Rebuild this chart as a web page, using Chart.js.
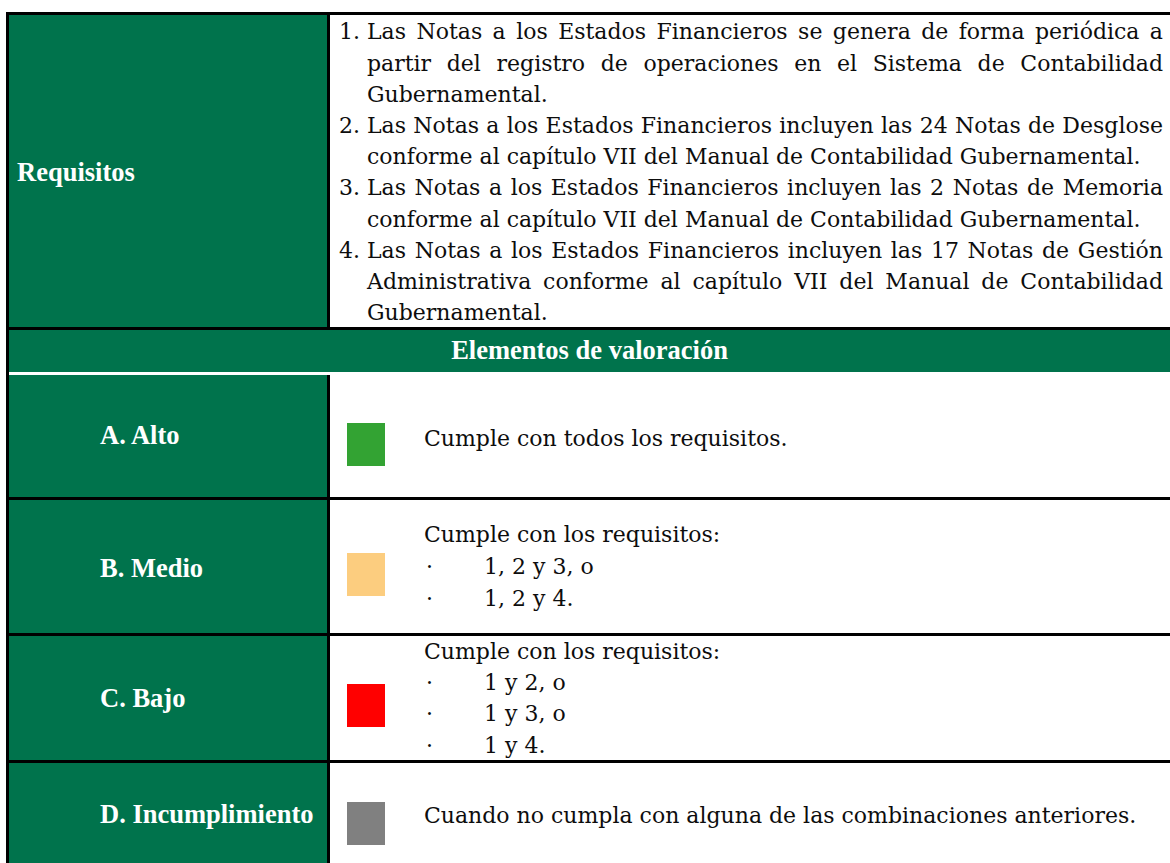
<!DOCTYPE html>
<html lang="es">
<head>
<meta charset="utf-8">
<title>Elementos de valoración</title>
<script src="https://cdn.jsdelivr.net/npm/chart.js@4/dist/chart.umd.min.js"></script>
<style>
    body { margin: 0; width: 1170px; height: 863px; overflow: hidden; background: #fff; position: relative; }
    .box { position: absolute; }
    .green { background: #00734c; }
    .black { background: #000; }
    .label {
        position: absolute; white-space: nowrap; color: #fff;
        font-family: 'Liberation Serif', 'Times New Roman', serif;
        font-weight: bold; font-size: 26.5px; line-height: 30px;
    }
    .txt {
        position: absolute; white-space: nowrap; color: #0d0d0d;
        font-family: 'DejaVu Serif', serif; font-size: 22px;
    }
    .just { text-align: justify; text-align-last: justify; }
</style>
</head>
<body>
<script>
// Requisitos (lines as broken in the original)
const reqNumbers = ['1.', '2.', '3.', '4.'];
const reqLines = [
    ['Las Notas a los Estados Financieros se genera de forma periódica a',
     'partir del registro de operaciones en el Sistema de Contabilidad',
     'Gubernamental.'],
    ['Las Notas a los Estados Financieros incluyen las 24 Notas de Desglose',
     'conforme al capítulo VII del Manual de Contabilidad Gubernamental.'],
    ['Las Notas a los Estados Financieros incluyen las 2 Notas de Memoria',
     'conforme al capítulo VII del Manual de Contabilidad Gubernamental.'],
    ['Las Notas a los Estados Financieros incluyen las 17 Notas de Gestión',
     'Administrativa conforme al capítulo VII del Manual de Contabilidad',
     'Gubernamental.']
];

// Elementos de valoración
const levelLabels = ['A. Alto', 'B. Medio', 'C. Bajo', 'D. Incumplimiento'];
const levelColors = ['#33a333', '#fccd7f', '#ff0000', '#808080'];
const levelIntro = [
    'Cumple con todos los requisitos.',
    'Cumple con los requisitos:',
    'Cumple con los requisitos:',
    'Cuando no cumpla con alguna de las combinaciones anteriores.'
];
const levelItems = [[], ['1, 2 y 3, o', '1, 2 y 4.'], ['1 y 2, o', '1 y 3, o', '1 y 4.'], []];

// layout
const rowBoxes = [[375, 497], [500, 633], [636, 760], [763, 875]];
const labelTops = [420, 553, 683, 799];
const swatchTops = [423, 553, 684, 802];
const textTops = [423, 519, 636, 800];
const textSteps = [31, 32, 31.2, 31];

function box(cls, x, y, w, h) {
    const d = document.createElement('div');
    d.className = 'box ' + cls;
    Object.assign(d.style, { left: x + 'px', top: y + 'px', width: w + 'px', height: h + 'px' });
    document.body.appendChild(d);
    return d;
}

function text(cls, str, x, y, w, lh) {
    const d = document.createElement('div');
    d.className = cls;
    d.textContent = str;
    d.style.left = x + 'px';
    d.style.top = y + 'px';
    if (w) d.style.width = w + 'px';
    if (lh) d.style.lineHeight = lh + 'px';
    document.body.appendChild(d);
    return d;
}

// Swatch drawn as a single full bar
function drawSwatch(i) {
    const holder = box('', 347, swatchTops[i], 38, 43);
    const canvas = document.createElement('canvas');
    canvas.width = 38;
    canvas.height = 43;
    holder.appendChild(canvas);
    new Chart(canvas.getContext('2d'), {
        type: 'bar',
        data: {
            labels: [levelLabels[i]],
            datasets: [{
                data: [1],
                backgroundColor: levelColors[i],
                borderWidth: 0,
                barPercentage: 1,
                categoryPercentage: 1
            }]
        },
        options: {
            responsive: false,
            animation: false,
            layout: { padding: 0 },
            plugins: { legend: { display: false }, tooltip: { enabled: false } },
            scales: {
                x: { display: false },
                y: { display: false, min: 0, max: 1 }
            }
        }
    });
}

function buildTable() {
    // Requisitos row
    box('green', 9, 15, 318, 312);
    text('label', 'Requisitos', 17, 157);

    let line = 0;
    const step = 31.2;
    reqLines.forEach((para, p) => {
        para.forEach((str, k) => {
            const y = 16.3 + line * step;
            if (k === 0) text('txt', reqNumbers[p], 339, y, 0, step);
            const last = k === para.length - 1;
            text('txt' + (last ? '' : ' just'), str, 367, y, 796, step);
            line++;
        });
    });

    // header
    box('green', 9, 330, 1161, 42);
    const h = text('label', 'Elementos de valoración', 6, 335, 1167);
    h.style.textAlign = 'center';

    // level rows
    levelLabels.forEach((lab, i) => {
        const [top, bottom] = rowBoxes[i];
        box('green', 9, top, 318, bottom - top);
        text('label', lab, 100, labelTops[i]);
        drawSwatch(i);
        const st = textSteps[i];
        text('txt', levelIntro[i], 424, textTops[i], 0, st);
        levelItems[i].forEach((it, k) => {
            const y = textTops[i] + (k + 1) * st;
            text('txt', '·', 426, y, 0, st);
            text('txt', it, 484, y, 0, st);
        });
    });

    // rules
    box('black', 6, 12, 1164, 3);
    box('black', 6, 12, 3, 851);
    box('black', 327, 15, 3, 312);
    box('black', 6, 327, 1164, 3);
    box('black', 327, 375, 3, 488);
    box('black', 6, 497, 1164, 3);
    box('black', 6, 633, 1164, 3);
    box('black', 6, 760, 1164, 3);
}

window.addEventListener('load', buildTable);
</script>
</body>
</html>
